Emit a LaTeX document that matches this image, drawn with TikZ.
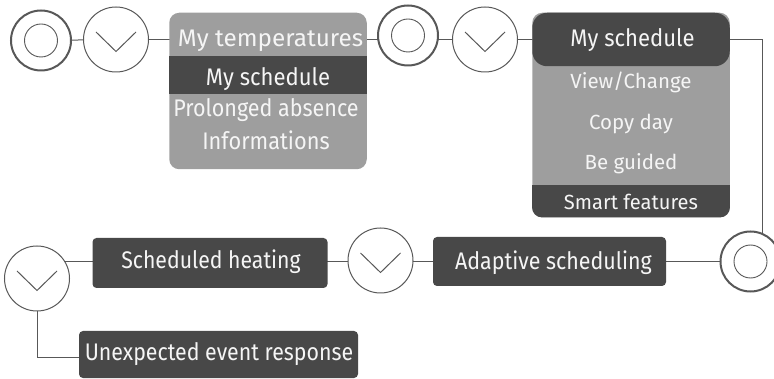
\documentclass[tikz,border=0pt]{standalone}
\usepackage{graphicx}
\usepackage{fontspec}
\setmainfont{Fira Sans}[FakeStretch=0.92]
\newfontfamily\smallfam{Fira Sans}
\usetikzlibrary{calc}
\definecolor{lightg}{RGB}{158,158,158}
\definecolor{darkg}{RGB}{72,72,72}
\definecolor{lineg}{RGB}{88,88,88}
\definecolor{txtc}{RGB}{245,245,245}
\newcommand{\hsq}[2]{\scalebox{#1}[1]{#2}}
\pgfdeclarelayer{bg}
\pgfsetlayers{bg,main}
\begin{document}
\begin{tikzpicture}[x=1pt,y=-1pt,
  conn/.style={draw=lineg,line width=1pt},
  ring/.style={circle,draw=lineg,fill=white,line width=2pt,minimum size=60pt,inner sep=0pt},
  ringin/.style={circle,draw=lineg,line width=0.9pt,minimum size=33pt,inner sep=0pt},
  chev/.style={circle,draw=lineg,fill=white,line width=1pt,minimum size=65pt,inner sep=0pt,
    path picture={\draw[lineg,line width=1pt]
      ([shift={(-20pt,7.5pt)}]path picture bounding box.center) --
      ([shift={(0pt,-12pt)}]path picture bounding box.center) --
      ([shift={(20pt,7.5pt)}]path picture bounding box.center);}},
  lbl/.style={text=txtc,font=\fontsize{24}{26}\selectfont,inner sep=0pt,anchor=base},
  sm/.style={text=txtc,font=\smallfam\fontsize{20.5}{22}\selectfont,inner sep=0pt,anchor=base},
  dbox/.style={fill=darkg,rounded corners=4pt,inner sep=0pt},
]
\useasboundingbox (0,0) rectangle (774,379);

% top row
\node[ring] (c1) at (41,40.5) {};
\node[ringin] (c1i) at (c1) {};
\node[chev] (v1) at (116,39.5) {};

\node[fill=lightg,rounded corners=10pt,minimum width=197.5pt,minimum height=156.5pt,inner sep=0pt] (m1) at (268,91) {};
\node[fill=darkg,minimum width=197.5pt,minimum height=38.5pt,inner sep=0pt] (m1b) at (268,75) {};
\node[lbl] (t11) at (270.5,46.5) {\hsq{1.1}{My temperatures}};
\node[lbl] (t12) at (268,85.5) {My schedule};
\node[lbl] (t13) at (266,116.5) {\hsq{0.975}{Prolonged absence}};
\node[lbl] (t14) at (266,150) {\hsq{0.985}{Informations}};

\node[ring] (c2) at (408,35.5) {};
\node[ringin] (c2i) at (c2) {};
\node[chev] (v2) at (485,39.5) {};

\node[fill=lightg,rounded corners=10pt,minimum width=197.5pt,minimum height=204.5pt,inner sep=0pt] (m2) at (631,115) {};
\node[fill=darkg,rounded corners=15pt,minimum width=197.5pt,minimum height=53.5pt,inner sep=0pt] (m2h) at (631,39.5) {};
\begin{scope}
  \clip (532,186) rectangle (730,218);
  \fill[darkg,rounded corners=10pt] (m2.north west) rectangle (m2.south east);
\end{scope}
\node[lbl] (t21) at (632.5,46.5) {My schedule};
\node[sm] (t22) at (631,88.3) {View/Change};
\node[sm] (t23) at (631,129.3) {Copy day};
\node[sm] (t24) at (631,169.3) {Be guided};
\node[sm] (t25) at (631,210) {\hsq{0.98}{Smart features}};

\coordinate (corner) at (762,39.5);

% bottom row
\node[ring] (c3) at (750.5,261.5) {};
\node[ringin] (c3i) at (c3) {};
\node[dbox,minimum width=233pt,minimum height=49pt] (ad) at (549.5,261.5) {};
\node[lbl] (tad) at (553.5,270) {\hsq{0.97}{Adaptive scheduling}};
\node[chev] (v3) at (380.5,260.5) {};
\node[dbox,minimum width=235pt,minimum height=50pt] (sh) at (210,263) {};
\node[lbl] (tsh) at (211,268.3) {\hsq{0.962}{Scheduled heating}};
\node[chev] (v4) at (37,278.5) {};
\node[dbox,minimum width=279pt,minimum height=47pt] (ue) at (218.5,354.5) {};
\node[lbl] (tue) at (219,360) {\hsq{0.967}{Unexpected event response}};

\begin{pgfonlayer}{bg}
  \draw[conn] (c1) -- (v1);
  \draw[conn] (v1) -- (v1 -| m1);
  \draw[conn] (m1 |- v2) -- (v2 -| c2) -- (v2);
  \draw[conn] (v2) -- (v2 -| m2);
  \draw[conn] (m2 |- corner) -- (corner) -- (corner |- c3);
  \draw[conn] (c3) -- (c3 -| v4);
  \draw[conn] (v4) -- (v4 |- 0,358) -- (ue.west |- 0,358);
\end{pgfonlayer}
\end{tikzpicture}
\end{document}
